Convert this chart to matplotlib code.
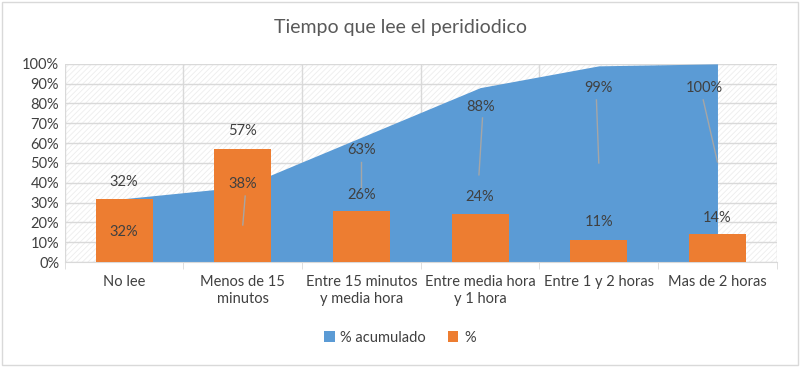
import matplotlib
matplotlib.use("Agg")
import matplotlib.pyplot as plt
from matplotlib.patches import Rectangle
import numpy as np

categories = ["No lee", "Menos de 15\nminutos", "Entre 15 minutos\ny media hora",
              "Entre media hora\ny 1 hora", "Entre 1 y 2 horas", "Mas de 2 horas"]
acumulado = [32, 38, 63, 88, 99, 100]
porcentaje = [32, 57, 26, 24, 11, 14]
yticks = list(range(0, 101, 10))

# label placement (data units, %)
acum_label_y = [15, 39.5, 56.5, 78, 88, 88]
acum_label_dx = [0, 0, 0, 0, 0, -0.11]
leader_top = [None, 33.3, 50.5, 72.7, 81.8, 81.8]
leader_bot = [None, 18.7, 37.4, 44.0, 50.0, 50.5]
leader_dx_top = [0, 0.02, 0, 0.02, -0.02, -0.12]
leader_dx_bot = [0, 0.0, 0, -0.01, 0.0, 0.0]
bar_label_y = [40.4, 66, 34, 33, 20, 22]

plt.rcParams['font.family'] = ['Lato', 'DejaVu Sans']
plt.rcParams['hatch.linewidth'] = 0.6

fig = plt.figure(figsize=(8, 3.67), dpi=100)
fig.patch.set_facecolor('white')
fig.add_artist(Rectangle((0.003, 0.005), 0.994, 0.99, transform=fig.transFigure,
                         fill=False, edgecolor='#D9D9D9', linewidth=1))

ax = fig.add_axes([0.081, 0.286, 0.89, 0.540])
x = np.arange(len(categories))

ax.set_xlim(-0.5, len(categories) - 0.5)
ax.set_ylim(0, 100)

# hatched background
ax.add_patch(Rectangle((0, 0), 1, 1, transform=ax.transAxes, facecolor='white',
                       hatch='//////', edgecolor='#EDEDED', linewidth=0, zorder=0))

for yv in yticks:
    ax.axhline(yv, color='#D9D9D9', linewidth=1, zorder=1)
for b in np.arange(-0.5, len(categories), 1.0):
    ax.axvline(b, color='#D9D9D9', linewidth=1, zorder=1)

ax.fill_between(x, acumulado, 0, color='#5B9BD5', linewidth=0, zorder=2,
                label='% acumulado')
ax.bar(x, porcentaje, width=0.48, color='#ED7D31', zorder=3, label='%')

txt = '#404040'
for i in range(len(categories)):
    ax.text(x[i] + acum_label_dx[i], acum_label_y[i], f"{acumulado[i]}%", ha='center',
            va='center', fontsize=10.5, color=txt, zorder=5)
    if leader_top[i] is not None:
        ax.plot([x[i] + leader_dx_top[i], x[i] + leader_dx_bot[i]],
                [leader_top[i], leader_bot[i]], color='#A6A6A6', linewidth=1, zorder=4)
    ax.text(x[i], bar_label_y[i], f"{porcentaje[i]}%", ha='center', va='center',
            fontsize=10.5, color=txt, zorder=5)

for s in ['top', 'right', 'left']:
    ax.spines[s].set_visible(False)
ax.spines['bottom'].set_color('#D9D9D9')

ax.set_yticks(yticks)
ax.set_yticklabels([f"{v}%" for v in yticks], fontsize=10.5, color=txt)
ax.tick_params(axis='y', length=0, pad=4)
ax.set_xticks(x)
ax.set_xticklabels(categories, fontsize=10.5, color=txt, linespacing=1.3)
ax.tick_params(axis='x', length=0, pad=9)
ax.set_xticks(np.arange(-0.5, len(categories), 1.0), minor=True)
ax.tick_params(axis='x', which='minor', length=5, color='#D9D9D9')

fig.text(0.5, 0.925, "Tiempo que lee el peridiodico", ha='center', va='center',
         fontsize=14, color='#595959')

handles, labels = ax.get_legend_handles_labels()
leg = fig.legend(handles, labels, loc='center', bbox_to_anchor=(0.5, 0.08), ncol=2,
                 frameon=False, fontsize=10.5, handlelength=0.7, handleheight=0.7,
                 columnspacing=1.5, handletextpad=0.4)
for t in leg.get_texts():
    t.set_color(txt)

fig.savefig("out.png", dpi=100)
